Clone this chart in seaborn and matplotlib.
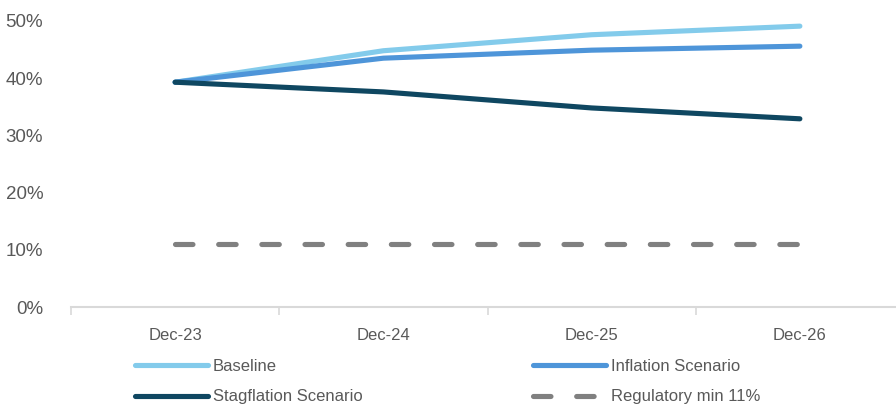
import matplotlib
matplotlib.use("Agg")
import matplotlib.pyplot as plt
import seaborn as sns
import pandas as pd
from matplotlib.ticker import PercentFormatter

# data
periods = ["Dec-23", "Dec-24", "Dec-25", "Dec-26"]
baseline = [0.393, 0.448, 0.476, 0.491]
inflation = [0.393, 0.435, 0.449, 0.456]
stagflation = [0.393, 0.376, 0.348, 0.329]
regulatory_min = [0.11, 0.11, 0.11, 0.11]

series_names = ["Baseline", "Inflation Scenario", "Stagflation Scenario", "Regulatory min 11%"]
series_values = [baseline, inflation, stagflation, regulatory_min]
colors = ["#83CBEB", "#4E95D9", "#0F4761", "#808080"]

sns.set_style("white")
plt.rcParams["font.family"] = ["Liberation Sans Narrow", "Liberation Sans", "DejaVu Sans"]

fig = plt.figure(figsize=(8.96, 4.07), dpi=100)
ax = fig.add_axes([71 / 896, 100 / 407, (904 - 71) / 896, 286 / 407])

for name, vals, col in zip(series_names, series_values, colors):
    df = pd.DataFrame({"x": range(len(periods)), "y": vals})
    sns.lineplot(data=df, x="x", y="y", ax=ax, color=col, linewidth=3.7, label=name)
    ln = ax.lines[-1]
    ln.set_solid_capstyle("round")
    if name.startswith("Regulatory"):
        ln.set_dashes((3.4, 5.0))
        ln.set_dash_capstyle("round")

ax.set_xlim(-0.5, len(periods) - 0.5)
ax.set_ylim(0, 0.5)
ax.set_yticks([0, 0.1, 0.2, 0.3, 0.4, 0.5])
ax.yaxis.set_major_formatter(PercentFormatter(1.0, decimals=0))
ax.set_xticks(range(len(periods)))
ax.set_xticklabels(periods)
ax.set_xticks([i - 0.5 for i in range(len(periods) + 1)], minor=True)
ax.tick_params(axis="x", which="major", length=0, pad=15, labelsize=12, labelcolor="#595959")
ax.tick_params(axis="x", which="minor", bottom=True, length=6, width=1.2, color="#D9D9D9")
ax.tick_params(axis="y", length=0, pad=20, labelsize=13.5, labelcolor="#595959")
ax.set_xlabel("")
ax.set_ylabel("")
for s in ["top", "right", "left"]:
    ax.spines[s].set_visible(False)
ax.spines["bottom"].set_color("#D9D9D9")
ax.spines["bottom"].set_linewidth(1.5)
ax.grid(False)

handles, labels = ax.get_legend_handles_labels()
ax.get_legend().remove()
# legend fills row by row in the original
order = [0, 2, 1, 3]
leg = fig.legend([handles[i] for i in order], [labels[i] for i in order], ncol=2,
                 loc="upper left", bbox_to_anchor=(128 / 896, 1 - 352 / 407), frameon=False,
                 fontsize=12, handlelength=4.4, handletextpad=0.3,
                 columnspacing=10.2, labelspacing=0.95, borderaxespad=0)
for t in leg.get_texts():
    t.set_color("#595959")
for h in leg.get_lines():
    h.set_linewidth(3.7)
    h.set_solid_capstyle("round")

fig.savefig("out.png", dpi=100)
